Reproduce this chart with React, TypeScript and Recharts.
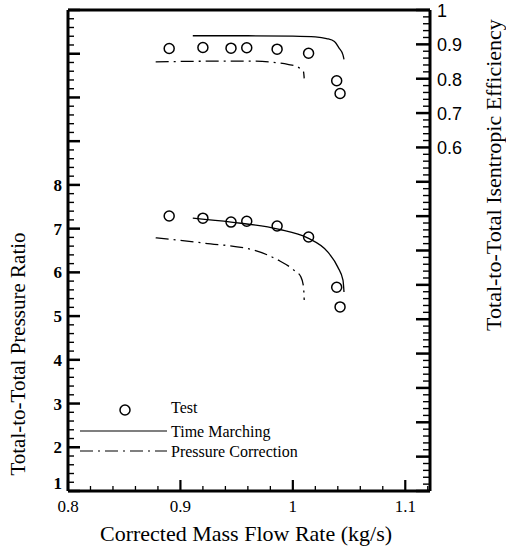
import React from "react";
import { ComposedChart, Line, Scatter, XAxis, YAxis, ReferenceLine, Legend, Label } from "recharts";

// test data (shared flow rates)
const testFlow = [0.89, 0.92, 0.945, 0.959, 0.986, 1.014, 1.039, 1.042];
const testEff = [0.888, 0.891, 0.889, 0.89, 0.886, 0.874, 0.794, 0.757];
const testPR = [7.29, 7.24, 7.15, 7.17, 7.06, 6.81, 5.66, 5.21];

// time marching
const tmEffFlow = [0.911, 0.96, 1.0, 1.02, 1.03, 1.037, 1.041, 1.0445, 1.0455];
const tmEff = [0.925, 0.925, 0.924, 0.922, 0.917, 0.908, 0.89, 0.87, 0.856];
const tmPRFlow = [0.911, 0.945, 0.987, 1.013, 1.031, 1.04, 1.0446, 1.0455];
const tmPR = [7.24, 7.15, 6.99, 6.79, 6.47, 6.12, 5.82, 5.55];

// pressure correction
const pcEffFlow = [0.878, 0.93, 0.965, 0.985, 0.9955, 1.005, 1.0095, 1.0101];
const pcEff = [0.849, 0.851, 0.851, 0.847, 0.842, 0.833, 0.82, 0.801];
const pcPRFlow = [0.878, 0.9205, 0.965, 0.987, 1.001, 1.0071, 1.0095, 1.0101];
const pcPR = [6.79, 6.67, 6.51, 6.28, 6.05, 5.9, 5.67, 5.37];

// tick labels
const xLabels = ["0.8", "0.9", "1", "1.1"];
const leftLabels = ["1", "2", "3", "4", "5", "6", "7", "8"];
const rightLabels = ["0.6", "0.7", "0.8", "0.9", "1"];

const steps = (from: number, to: number, step: number) => {
  const out: number[] = [];
  const n = Math.round((to - from) / step);
  for (let i = 0; i <= n; i++) out.push(Math.round((from + i * step) * 1000) / 1000);
  return out;
};
const xTicks = steps(0.8, 1.12, 0.02);
const leftTicks = steps(1, 12, 0.2);
const rightTicks = steps(-0.4, 1, 0.02);

const pts = (xs: number[], ys: number[]) => xs.map((x, i) => ({ x, y: ys[i] }));

const serif = { fontFamily: '"Liberation Serif", "Times New Roman", "DejaVu Serif", serif' };
const sans = { fontFamily: '"Liberation Sans", Arial, sans-serif' };
const DASHDOT = "13 5 2 5";

const isMajor = (v: number, step: number) => Math.abs(v / step - Math.round(v / step)) < 1e-6;
const fmt = (v: number) => String(Math.round(v * 100) / 100);

const XTick = ({ x, y, payload }: any) => {
  const v = payload.value;
  const major = isMajor(v, 0.1);
  const label = fmt(v);
  return (
    <g>
      <line x1={x} x2={x} y1={y} y2={y - (major ? 11 : 5)} stroke="#000" strokeWidth={major ? 2.2 : 1.3} />
      {major && xLabels.includes(label) && (
        <text x={x} y={y + 21} textAnchor="middle" style={serif} fontSize={17} fill="#000">
          {label}
        </text>
      )}
    </g>
  );
};

const LeftTick = ({ x, y, payload }: any) => {
  const v = payload.value;
  const major = isMajor(v, 1);
  const label = fmt(v);
  return (
    <g>
      <line x1={x} x2={x + (major ? 12 : 6)} y1={y} y2={y} stroke="#000" strokeWidth={major ? 2.5 : 1.4} />
      {major && leftLabels.includes(label) && (
        <text x={x - 6} y={y + (label === "1" ? -2 : 6)} textAnchor="end" style={serif} fontWeight="bold" fontSize={17} fill="#000">
          {label}
        </text>
      )}
    </g>
  );
};

const RightTick = ({ x, y, payload }: any) => {
  const v = payload.value;
  const major = isMajor(v, 0.1);
  const label = fmt(v);
  return (
    <g>
      <line x1={x} x2={x - (major ? 14 : 7)} y1={y} y2={y} stroke="#000" strokeWidth={major ? 2.5 : 1.4} />
      {major && rightLabels.includes(label) && (
        <text x={x + 7} y={y + 7} textAnchor="start" style={sans} fontSize={18} fill="#000">
          {label}
        </text>
      )}
    </g>
  );
};

const Ring = ({ cx, cy }: any) => <circle cx={cx} cy={cy} r={5} fill="none" stroke="#000" strokeWidth={1.5} />;

const LegendBox = () => (
  <svg width={250} height={70} style={{ display: "block" }}>
    <circle cx={55} cy={15} r={5} fill="none" stroke="#000" strokeWidth={1.5} />
    <text x={101} y={18} style={serif} fontSize={16} fill="#000">Test</text>
    <line x1={10} x2={97} y1={36} y2={36} stroke="#000" strokeWidth={1.2} />
    <text x={101} y={42} style={serif} fontSize={16} fill="#000">Time Marching</text>
    <line x1={10} x2={97} y1={56} y2={56} stroke="#000" strokeWidth={1.2} strokeDasharray={DASHDOT} />
    <text x={101} y={62} style={serif} fontSize={16} fill="#000">Pressure Correction</text>
  </svg>
);

const XTitle = ({ viewBox }: any) => (
  <text x={viewBox.x + viewBox.width / 2 - 3} y={541} textAnchor="middle" style={serif} fontSize={22} fill="#000">
    Corrected Mass Flow Rate (kg/s)
  </text>
);
const LeftTitle = () => (
  <text x={25} y={354} transform="rotate(-90 25 354)" textAnchor="middle" style={serif} fontSize={21} fill="#000">
    Total-to-Total Pressure Ratio
  </text>
);
const RightTitle = () => (
  <text x={501} y={175} transform="rotate(-90 501 175)" textAnchor="middle" style={serif} fontSize={22} fill="#000">
    Total-to-Total Isentropic Efficiency
  </text>
);

export default function App() {
  const axisLine = { stroke: "#000", strokeWidth: 3 };
  return (
    <div style={{ position: "absolute", left: 0, top: 0, background: "#fff" }}>
      <ComposedChart width={506} height={555} margin={{ top: 10, right: 16, bottom: 24, left: 8 }}>
        <XAxis
          type="number"
          dataKey="x"
          domain={[0.8, 1.122]}
          allowDataOverflow
          ticks={xTicks}
          interval={0}
          tick={<XTick />}
          tickLine={false}
          tickSize={0}
          tickMargin={0}
          axisLine={axisLine}
          height={40}
        >
          <Label content={<XTitle />} />
        </XAxis>
        <YAxis
          yAxisId="left"
          type="number"
          dataKey="y"
          domain={[1, 12]}
          allowDataOverflow
          ticks={leftTicks}
          interval={0}
          tick={<LeftTick />}
          tickLine={false}
          tickSize={0}
          tickMargin={0}
          axisLine={axisLine}
          width={60}
        >
          <Label content={<LeftTitle />} />
        </YAxis>
        <YAxis
          yAxisId="right"
          orientation="right"
          type="number"
          dataKey="y"
          domain={[-0.4, 1]}
          allowDataOverflow
          ticks={rightTicks}
          interval={0}
          tick={<RightTick />}
          tickLine={false}
          tickSize={0}
          tickMargin={0}
          axisLine={axisLine}
          width={60}
        >
          <Label content={<RightTitle />} />
        </YAxis>
        <ReferenceLine yAxisId="left" y={12} stroke="#000" strokeWidth={3} ifOverflow="visible" />

        <Line yAxisId="right" data={pts(tmEffFlow, tmEff)} dataKey="y" type="monotone" stroke="#000" strokeWidth={1.3} dot={false} isAnimationActive={false} />
        <Line yAxisId="right" data={pts(pcEffFlow, pcEff)} dataKey="y" type="monotone" stroke="#000" strokeWidth={1.3} strokeDasharray={DASHDOT} dot={false} isAnimationActive={false} />
        <Line yAxisId="left" data={pts(tmPRFlow, tmPR)} dataKey="y" type="monotone" stroke="#000" strokeWidth={1.3} dot={false} isAnimationActive={false} />
        <Line yAxisId="left" data={pts(pcPRFlow, pcPR)} dataKey="y" type="monotone" stroke="#000" strokeWidth={1.3} strokeDasharray={DASHDOT} dot={false} isAnimationActive={false} />
        <Scatter yAxisId="right" data={pts(testFlow, testEff)} dataKey="y" shape={<Ring />} isAnimationActive={false} />
        <Scatter yAxisId="left" data={pts(testFlow, testPR)} dataKey="y" shape={<Ring />} isAnimationActive={false} />

        <Legend
          layout="vertical"
          align="center"
          verticalAlign="middle"
          content={<LegendBox />}
          wrapperStyle={{ left: 70, top: 395, width: 250, height: 70 }}
        />
      </ComposedChart>
    </div>
  );
}
